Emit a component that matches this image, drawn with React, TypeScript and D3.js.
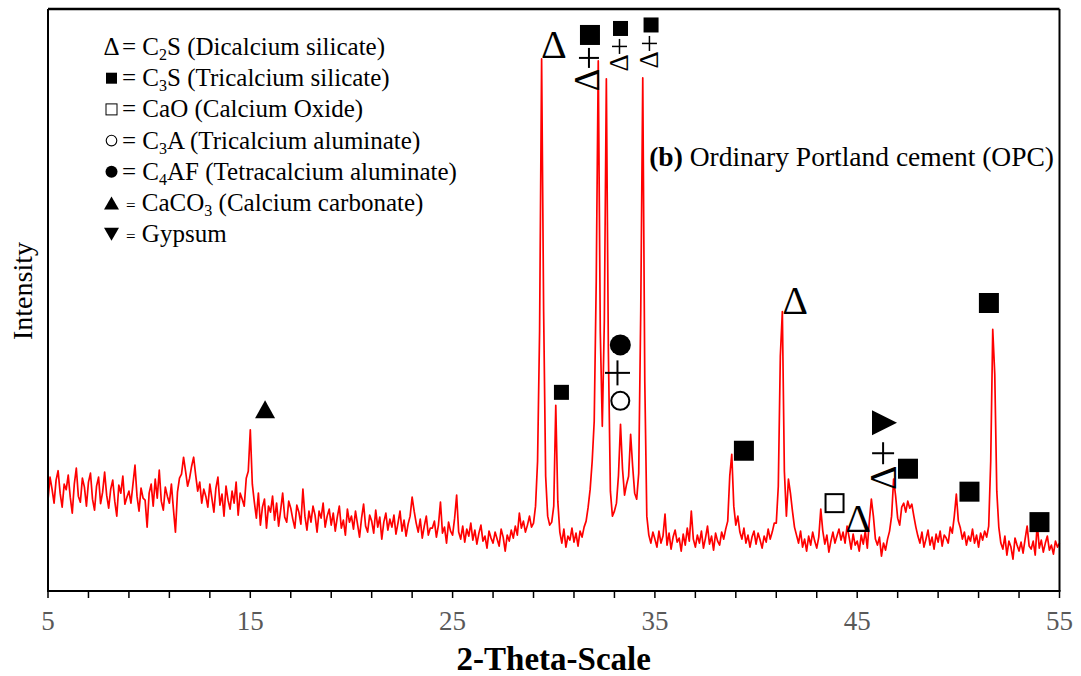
import React from "react";
import * as d3 from "d3";

// scan starts at 5 deg, one reading every 0.1 deg
const angleStart = 5;
const angleStep = 0.1;

// counts, one row per degree (x.0 ... x.9)
const counts: number[] = [
  182, 228, 204, 176, 222, 241, 196, 168, 214, 203, // 5
  232, 188, 156, 214, 246, 190, 178, 226, 208, 170, // 6
  218, 236, 184, 162, 210, 228, 175, 198, 238, 192, // 7
  166, 204, 222, 180, 150, 212, 196, 230, 174, 188, // 8
  200, 176, 214, 252, 190, 160, 206, 186, 182, 128, // 9
  196, 214, 170, 224, 186, 242, 180, 162, 208, 190, // 10
  176, 214, 164, 118, 198, 226, 234, 268, 240, 210, // 11
  226, 250, 268, 232, 200, 218, 176, 204, 190, 168, // 12
  214, 186, 158, 206, 228, 172, 194, 150, 210, 182, // 13
  164, 200, 176, 218, 152, 196, 184, 170, 226, 240, // 14
  323, 214, 178, 146, 196, 132, 168, 184, 126, 170, // 15
  158, 190, 142, 176, 130, 162, 196, 148, 138, 180, // 16
  166, 144, 126, 172, 158, 134, 204, 150, 122, 160, // 17
  138, 170, 152, 118, 160, 146, 176, 128, 150, 164, // 18
  132, 156, 120, 148, 170, 126, 142, 112, 164, 138, // 19
  150, 124, 160, 134, 108, 146, 174, 130, 118, 152, // 20
  140, 116, 162, 128, 148, 104, 138, 156, 122, 144, // 21
  128, 152, 114, 136, 160, 120, 142, 110, 134, 150, // 22
  188, 160, 136, 118, 144, 106, 130, 150, 112, 126, // 23
  126, 140, 108, 132, 178, 116, 128, 96, 138, 120, // 24
  112, 146, 192, 118, 104, 130, 98, 124, 110, 136, // 25
  102, 122, 94, 116, 132, 100, 110, 86, 120, 106, // 26
  96, 118, 104, 90, 124, 108, 80, 112, 100, 122, // 27
  106, 130, 112, 156, 126, 140, 118, 132, 150, 128, // 28
  136, 170, 260, 520, 1066, 560, 230, 150, 132, 138, // 29
  170, 372, 180, 118, 96, 124, 88, 110, 102, 126, // 30
  98, 116, 90, 120, 108, 128, 140, 168, 204, 260, // 31
  340, 620, 1062, 520, 330, 540, 1026, 480, 200, 150, // 32
  160, 176, 232, 334, 244, 192, 214, 230, 314, 250, // 33
  196, 184, 236, 560, 1028, 420, 150, 112, 96, 118, // 34
  104, 88, 120, 96, 110, 154, 92, 116, 84, 108, // 35
  122, 98, 106, 80, 114, 92, 126, 100, 160, 104, // 36
  88, 112, 96, 120, 86, 106, 130, 94, 110, 82, // 37
  116, 100, 92, 118, 104, 124, 140, 230, 274, 170, // 38
  132, 150, 118, 104, 126, 96, 112, 88, 108, 120, // 39
  94, 116, 102, 86, 110, 98, 124, 104, 118, 136, // 40
  136, 210, 470, 560, 240, 150, 224, 196, 160, 128, // 41
  112, 96, 120, 88, 104, 80, 110, 92, 118, 100, // 42
  86, 108, 164, 120, 94, 112, 78, 100, 118, 96, // 43
  110, 124, 102, 118, 96, 130, 108, 84, 114, 92, // 44
  100, 80, 112, 94, 120, 86, 140, 184, 150, 104, // 45
  92, 108, 70, 96, 82, 104, 120, 150, 224, 190, // 46
  146, 132, 168, 176, 158, 180, 166, 174, 150, 128, // 47
  110, 96, 118, 88, 104, 122, 92, 108, 84, 114, // 48
  98, 120, 90, 112, 106, 96, 128, 116, 150, 194, // 49
  140, 126, 104, 118, 92, 110, 100, 124, 96, 112, // 50
  88, 116, 102, 120, 108, 130, 260, 524, 434, 200, // 51
  128, 96, 84, 110, 72, 100, 88, 64, 106, 92, // 52
  80, 98, 76, 104, 130, 90, 84, 100, 72, 134, // 53
  86, 102, 78, 96, 110, 82, 92, 74, 100, 88, // 54
  96, // 55
];

const majorTicks = [5, 15, 25, 35, 45, 55];
const minorTicks = [7, 9, 11, 13, 17, 19, 21, 23, 27, 29, 31, 33, 37, 39, 41, 43, 47, 49, 51, 53];

// phase labels on the peaks: [2theta, counts, size]
const filledSquares = [
  [31.79, 1114, 20], [33.3, 1127, 15], [34.81, 1134, 15], [30.38, 398, 15],
  [51.51, 577, 20], [39.4, 281, 20], [47.51, 245, 20], [50.55, 199, 20], [54.01, 138, 20],
];
const openSquares = [[43.88, 176, 18]];
const filledCircles = [[33.29, 493, 21]];
const openCircles = [[33.29, 381, 20]];
const upTriangles = [[15.73, 364, 20]];
const rightTriangles = [[46.35, 337, 25]];
const plusMarks = [[31.74, 1068, 20], [33.25, 1091, 15], [34.73, 1097, 15], [33.15, 437, 25], [46.28, 276, 22]];
// [2theta, counts, font size, rotation]
const deltaMarks = [
  [30.01, 1094, 40, 0], [41.93, 583, 40, 0], [45.04, 145, 40, 0],
  [31.69, 1024, 35, -90], [33.22, 1058, 27, -90], [34.71, 1064, 27, -90], [46.28, 227, 38, -90],
];

const legendMarks = ["delta", "square", "openSquare", "openCircle", "circle", "upTri", "downTri"];
// odd entries are subscripts
const legendTexts = [
  ["C", "2", "S (Dicalcium silicate)"],
  ["C", "3", "S (Tricalcium silicate)"],
  ["CaO (Calcium Oxide)"],
  ["C", "3", "A (Tricalcium aluminate)"],
  ["C", "4", "AF (Tetracalcium aluminate)"],
  ["CaCO", "3", " (Calcium carbonate)"],
  ["Gypsum"],
];

const W = 1081;
const H = 676;
const serif = "'Liberation Serif', 'Times New Roman', serif";

export default function App() {
  const left = 48, right = 1059.5, top = 9, bottom = 591;
  const x = d3.scaleLinear().domain([5, 55]).range([left, right]);
  const y = d3.scaleLinear().domain([0, 1166]).range([bottom, top]);

  const line = d3
    .line<number>()
    .x((_, i) => x(angleStart + i * angleStep))
    .y((d) => y(d));

  const legendMark = (kind: string, cx: number, cy: number) => {
    if (kind === "delta")
      return <text x={cx} y={cy + 8} fontSize={25} textAnchor="middle" fontFamily={serif}>Δ</text>;
    if (kind === "square") return <rect x={cx - 5.5} y={cy - 5.5} width={11} height={11} fill="black" />;
    if (kind === "openSquare")
      return <rect x={cx - 5.5} y={cy - 5.5} width={11} height={11} fill="none" stroke="black" strokeWidth={1} />;
    if (kind === "openCircle") return <circle cx={cx} cy={cy} r={5.3} fill="none" stroke="black" strokeWidth={1.1} />;
    if (kind === "circle") return <circle cx={cx} cy={cy} r={6} fill="black" />;
    if (kind === "upTri") return <path d={`M${cx - 7.5},${cy + 6.5}L${cx + 7.5},${cy + 6.5}L${cx},${cy - 6.5}Z`} />;
    return <path d={`M${cx - 7.5},${cy - 6.5}L${cx + 7.5},${cy - 6.5}L${cx},${cy + 6.5}Z`} />;
  };

  return (
    <svg width={W} height={H} style={{ position: "absolute", left: 0, top: 0, background: "white" }}>
      {/* scan */}
      <path d={line(counts) || ""} fill="none" stroke="#ff0000" strokeWidth={1.7} strokeLinejoin="round" />

      {/* frame */}
      <line x1={left} x2={right} y1={top} y2={top} stroke="black" strokeWidth={2.5} />
      <line x1={right} x2={right} y1={top} y2={bottom} stroke="black" strokeWidth={2} />
      <line x1={left} x2={left} y1={top} y2={bottom} stroke="black" strokeWidth={2} />
      <line x1={left - 1} x2={right + 1} y1={bottom} y2={bottom} stroke="black" strokeWidth={2} />

      {/* ticks */}
      {majorTicks.concat(minorTicks).map((t) => (
        <line key={"t" + t} x1={x(t)} x2={x(t)} y1={bottom} y2={bottom + 7} stroke="black" strokeWidth={1.5} />
      ))}
      {majorTicks.map((t) => (
        <text key={"l" + t} x={x(t)} y={630} textAnchor="middle" fontSize={27} fill="#595959" fontFamily={serif}>
          {t}
        </text>
      ))}
      <text x={(left + right) / 2} y={670} textAnchor="middle" fontSize={33} fontWeight="bold" fontFamily={serif}>
        2-Theta-Scale
      </text>
      <text transform="translate(32,291) rotate(-90)" textAnchor="middle" fontSize={28} fontFamily={serif}>
        Intensity
      </text>

      {/* legend */}
      {legendMarks.map((m, i) => {
        const base = 55 + i * 31.2;
        const small = i >= 5;
        const parts = legendTexts[i];
        return (
          <g key={"lg" + i}>
            {legendMark(m, 111.5, base - 8)}
            <text x={small ? 126 : 122} y={base} fontSize={25} fontFamily={serif}>
              <tspan fontSize={small ? 17 : 25}>=</tspan>
              <tspan> </tspan>
              {parts.map((p, j) =>
                j % 2 === 1 ? (
                  <tspan key={j} fontSize={16} dy={5}>{p}</tspan>
                ) : (
                  <tspan key={j} dy={j > 0 ? -5 : 0}>{p}</tspan>
                )
              )}
            </text>
          </g>
        );
      })}

      <text x={1054} y={166} textAnchor="end" fontSize={27.5} fontFamily={serif}>
        <tspan fontWeight="bold">(b)</tspan> Ordinary Portland cement (OPC)
      </text>

      {/* phase marks */}
      {filledSquares.map(([a, c, s], i) => (
        <rect key={"fs" + i} x={x(a) - s / 2} y={y(c) - s / 2} width={s} height={s} fill="black" />
      ))}
      {openSquares.map(([a, c, s], i) => (
        <rect key={"os" + i} x={x(a) - s / 2} y={y(c) - s / 2} width={s} height={s} fill="white" stroke="black" strokeWidth={2} />
      ))}
      {filledCircles.map(([a, c, s], i) => (
        <circle key={"fc" + i} cx={x(a)} cy={y(c)} r={s / 2} fill="black" />
      ))}
      {openCircles.map(([a, c, s], i) => (
        <circle key={"oc" + i} cx={x(a)} cy={y(c)} r={s / 2 - 1} fill="none" stroke="black" strokeWidth={2} />
      ))}
      {upTriangles.map(([a, c, s], i) => (
        <path key={"ut" + i} d={`M${x(a) - s / 2},${y(c) + s * 0.45}L${x(a) + s / 2},${y(c) + s * 0.45}L${x(a)},${y(c) - s * 0.45}Z`} />
      ))}
      {rightTriangles.map(([a, c, s], i) => (
        <path key={"rt" + i} d={`M${x(a) - s / 2},${y(c) - s / 2}L${x(a) - s / 2},${y(c) + s / 2}L${x(a) + s / 2},${y(c)}Z`} />
      ))}
      {plusMarks.map(([a, c, s], i) => (
        <g key={"p" + i} stroke="black" strokeWidth={s > 18 ? 2 : 1.5}>
          <line x1={x(a) - s / 2} x2={x(a) + s / 2} y1={y(c)} y2={y(c)} />
          <line x1={x(a)} x2={x(a)} y1={y(c) - s / 2} y2={y(c) + s / 2} />
        </g>
      ))}
      {deltaMarks.map(([a, c, fs, r], i) => (
        <text
          key={"d" + i}
          transform={`translate(${x(a)},${y(c)}) rotate(${r})`}
          textAnchor="middle"
          dominantBaseline="central"
          fontSize={fs}
          fontFamily={serif}
        >
          Δ
        </text>
      ))}
    </svg>
  );
}
